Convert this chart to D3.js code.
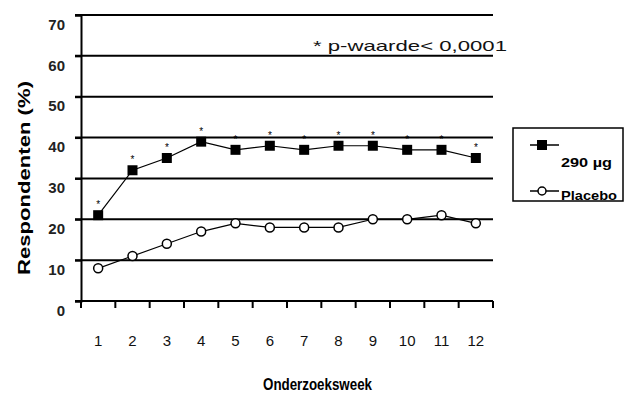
<!DOCTYPE html>
<html>
<head>
<meta charset="utf-8">
<script src="https://cdn.jsdelivr.net/npm/d3@7"></script>
<style>
body { margin: 0; background: #fff; }
text { font-family: Arial, "Liberation Sans", sans-serif; }
</style>
</head>
<body>
<script>
var w = 624, h = 394;

// data
var weeks = ["1","2","3","4","5","6","7","8","9","10","11","12"];
var dose290 = [21, 32, 35, 39, 37, 38, 37, 38, 38, 37, 37, 35];
var placebo = [8, 11, 14, 17, 19, 18, 18, 18, 20, 20, 21, 19];
var yTicks = [0, 10, 20, 30, 40, 50, 60, 70];
var seriesNames = ["290 µg", "Placebo"];

var svg = d3.select("body").append("svg")
	.attr("width", w)
	.attr("height", h)

var x = d3.scaleBand().domain(weeks).range([81, 493]);
var y = d3.scaleLinear().domain([0, 70]).range([301, 15]);

// gridlines
svg.append("g").selectAll("line")
	.data(yTicks.filter(function(d){ return d > 0; }))
	.enter().append("line")
	.attr("x1", 75).attr("x2", 493)
	.attr("y1", function(d){ return y(d); })
	.attr("y2", function(d){ return y(d); })
	.style("stroke", "#000")
	.style("stroke-width", 2)

// y axis
var yAxis = svg.append("g")
	.attr("transform", "translate(81,0)")
	.call(d3.axisLeft(y).tickValues(yTicks).tickSize(6).tickPadding(10))
yAxis.select(".domain").style("stroke-width", 2)
yAxis.selectAll(".tick line").style("stroke-width", 2)
yAxis.selectAll(".tick text")
	.attr("dy", "0.95em")
	.style("font-size", "15px")
	.style("font-weight", "bold")
	.style("fill", "#222")
	.attr("font-family", null)

// x axis
var xAxis = svg.append("g")
	.attr("transform", "translate(0,301)")
	.call(d3.axisBottom(x).tickSize(0).tickPadding(34))
xAxis.select(".domain").remove()
xAxis.selectAll(".tick text")
	.style("font-size", "15px")
	.style("fill", "#111")
	.attr("font-family", null)

svg.append("line")
	.attr("x1", 75).attr("x2", 493)
	.attr("y1", y(0)).attr("y2", y(0))
	.style("stroke", "#000").style("stroke-width", 2)

svg.append("g").selectAll("line")
	.data(weeks.concat(["end"]))
	.enter().append("line")
	.attr("x1", function(d){ return d == "end" ? x.range()[1] : x(d); })
	.attr("x2", function(d){ return d == "end" ? x.range()[1] : x(d); })
	.attr("y1", y(0)).attr("y2", y(0) + 7)
	.style("stroke", "#000").style("stroke-width", 2)

var cx = function(d, i){ return x(weeks[i]) + x.bandwidth() / 2; };

var line = d3.line()
	.x(function(d, i){ return cx(d, i); })
	.y(function(d){ return y(d); })

svg.append("path").datum(placebo)
	.attr("d", line)
	.style("fill", "none").style("stroke", "#000").style("stroke-width", 1.2)
svg.append("path").datum(dose290)
	.attr("d", line)
	.style("fill", "none").style("stroke", "#000").style("stroke-width", 1.2)

svg.append("g").selectAll("circle")
	.data(placebo)
	.enter().append("circle")
	.attr("cx", cx)
	.attr("cy", function(d){ return y(d); })
	.attr("r", 4.5)
	.style("fill", "#fff").style("stroke", "#000").style("stroke-width", 1.5)

svg.append("g").selectAll("rect")
	.data(dose290)
	.enter().append("rect")
	.attr("x", function(d, i){ return cx(d, i) - 5; })
	.attr("y", function(d){ return y(d) - 5; })
	.attr("width", 10).attr("height", 10)
	.style("fill", "#000")

// significance stars
svg.append("g").selectAll("text")
	.data(dose290)
	.enter().append("text")
	.attr("x", cx)
	.attr("y", function(d){ return y(d) - 7; })
	.attr("text-anchor", "middle")
	.style("font-size", "10px")
	.style("fill", "#000")
	.text("*")

svg.append("text")
	.attr("x", 313).attr("y", 51)
	.attr("textLength", 194).attr("lengthAdjust", "spacingAndGlyphs")
	.style("font-size", "15px")
	.style("fill", "#111")
	.text("* p-waarde< 0,0001")

// axis titles
svg.append("text")
	.attr("transform", "translate(30,178) rotate(-90)")
	.attr("text-anchor", "middle")
	.attr("textLength", 194).attr("lengthAdjust", "spacingAndGlyphs")
	.style("font-size", "17px")
	.style("font-weight", "bold")
	.text("Respondenten (%)")

svg.append("text")
	.attr("x", 263).attr("y", 390)
	.attr("textLength", 109).attr("lengthAdjust", "spacingAndGlyphs")
	.style("font-size", "17px")
	.style("font-weight", "bold")
	.text("Onderzoeksweek")

// legend
var legend = svg.append("g")
legend.append("rect")
	.attr("x", 513).attr("y", 128)
	.attr("width", 110).attr("height", 73)
	.style("fill", "#fff").style("stroke", "#000").style("stroke-width", 1.5)

legend.append("line")
	.attr("x1", 530).attr("x2", 559).attr("y1", 145).attr("y2", 145)
	.style("stroke", "#000").style("stroke-width", 1.5)
legend.append("rect")
	.attr("x", 537).attr("y", 140).attr("width", 10).attr("height", 10)
	.style("fill", "#000")
legend.append("text")
	.attr("x", 561).attr("y", 167)
	.attr("textLength", 51).attr("lengthAdjust", "spacingAndGlyphs")
	.style("font-size", "13px").style("font-weight", "bold")
	.text(seriesNames[0])

legend.append("line")
	.attr("x1", 530).attr("x2", 559).attr("y1", 191).attr("y2", 191)
	.style("stroke", "#000").style("stroke-width", 1.5)
legend.append("circle")
	.attr("cx", 542).attr("cy", 191).attr("r", 4)
	.style("fill", "#fff").style("stroke", "#000").style("stroke-width", 1.5)
legend.append("text")
	.attr("x", 561).attr("y", 200)
	.attr("textLength", 56).attr("lengthAdjust", "spacingAndGlyphs")
	.style("font-size", "13px").style("font-weight", "bold")
	.text(seriesNames[1])
</script>
</body>
</html>
